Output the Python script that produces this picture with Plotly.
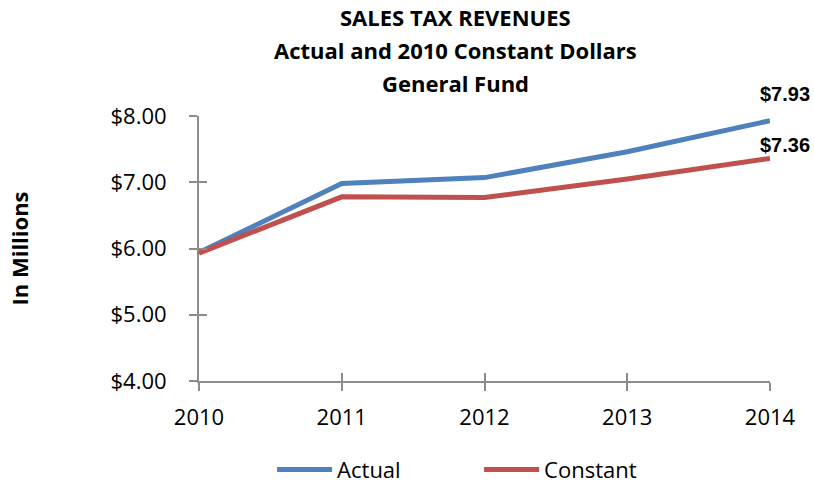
import plotly.graph_objects as go

years = [2010, 2011, 2012, 2013, 2014]
actual = [5.94, 6.98, 7.07, 7.46, 7.93]
constant = [5.93, 6.78, 6.77, 7.05, 7.36]
y_ticks = [4, 5, 6, 7, 8]
y_tick_labels = ["$4.00", "$5.00", "$6.00", "$7.00", "$8.00"]
title_lines = ["SALES TAX REVENUES", "Actual and 2010 Constant Dollars", "General Fund"]

BLUE = "#4F81BD"
RED = "#C0504D"
AXIS = "#8C8C8C"
FONT = "Open Sans"

fig = go.Figure()
fig.add_trace(go.Scatter(x=years, y=actual, mode="lines", name="Actual",
                         line=dict(color=BLUE, width=5)))
fig.add_trace(go.Scatter(x=years, y=constant, mode="lines", name="Constant",
                         line=dict(color=RED, width=5)))

# End-of-line value labels
for series, yshift in ((actual, 27), (constant, 13)):
    fig.add_annotation(x=years[-1], y=series[-1], xref="x", yref="y",
                       text=f"<b>${series[-1]:.2f}</b>", showarrow=False,
                       xshift=15, yshift=yshift, yanchor="middle",
                       font=dict(family="Liberation Sans", size=20, color="black"))

# Three-line bold title
for line, ypos in zip(title_lines, (1.374, 1.249, 1.125)):
    fig.add_annotation(x=0.449, y=ypos, xref="paper", yref="paper",
                       text=f"<b>{line}</b>", showarrow=False,
                       xanchor="center", yanchor="middle",
                       font=dict(family=FONT, size=22, color="black"))

fig.update_layout(
    width=814, height=485,
    margin=dict(l=199, r=44, t=116, b=104, autoexpand=False),
    paper_bgcolor="white", plot_bgcolor="white",
    font=dict(family=FONT, color="black"),
    showlegend=True,
    legend=dict(orientation="h", x=0.128, xanchor="left", y=-0.335, yanchor="middle",
                font=dict(family=FONT, size=22, color="black"),
                itemwidth=55, entrywidth=137, tracegroupgap=0,
                bgcolor="rgba(0,0,0,0)"),
)

axis_common = dict(showgrid=False, zeroline=False, showline=True,
                   linecolor=AXIS, linewidth=2,
                   ticks="outside", ticklen=8, tickcolor=AXIS, tickwidth=2)

fig.update_xaxes(
    range=[2010, 2014], tickvals=years, ticktext=[str(y) for y in years],
    tickfont=dict(family=FONT, size=22, color="black"), ticklabelstandoff=8,
    automargin=False, **axis_common,
)
fig.update_yaxes(
    range=[4, 8], tickvals=y_ticks, ticktext=y_tick_labels,
    tickfont=dict(family=FONT, size=22, color="black"), ticklabelstandoff=18,
    title=dict(text="<b>In Millions</b>", standoff=76,
               font=dict(family=FONT, size=22, color="black")),
    automargin=False, **axis_common,
)

# Overlay axes carrying inside tick marks so each tick crosses its axis line
fig.update_layout(
    xaxis2=dict(overlaying="x", matches="x", range=[2010, 2014], tickvals=years,
                showticklabels=False, showgrid=False, zeroline=False, showline=False,
                ticks="inside", ticklen=8, tickcolor=AXIS, tickwidth=2, side="bottom"),
    yaxis2=dict(overlaying="y", matches="y", range=[4, 8], tickvals=y_ticks,
                showticklabels=False, showgrid=False, zeroline=False, showline=False,
                ticks="inside", ticklen=8, tickcolor=AXIS, tickwidth=2, side="left"),
)
fig.add_trace(go.Scatter(x=[years[0]], y=[y_ticks[0]], xaxis="x2", yaxis="y2",
                         mode="markers", marker=dict(opacity=0), showlegend=False,
                         hoverinfo="skip"))

fig.write_html("out.html")
